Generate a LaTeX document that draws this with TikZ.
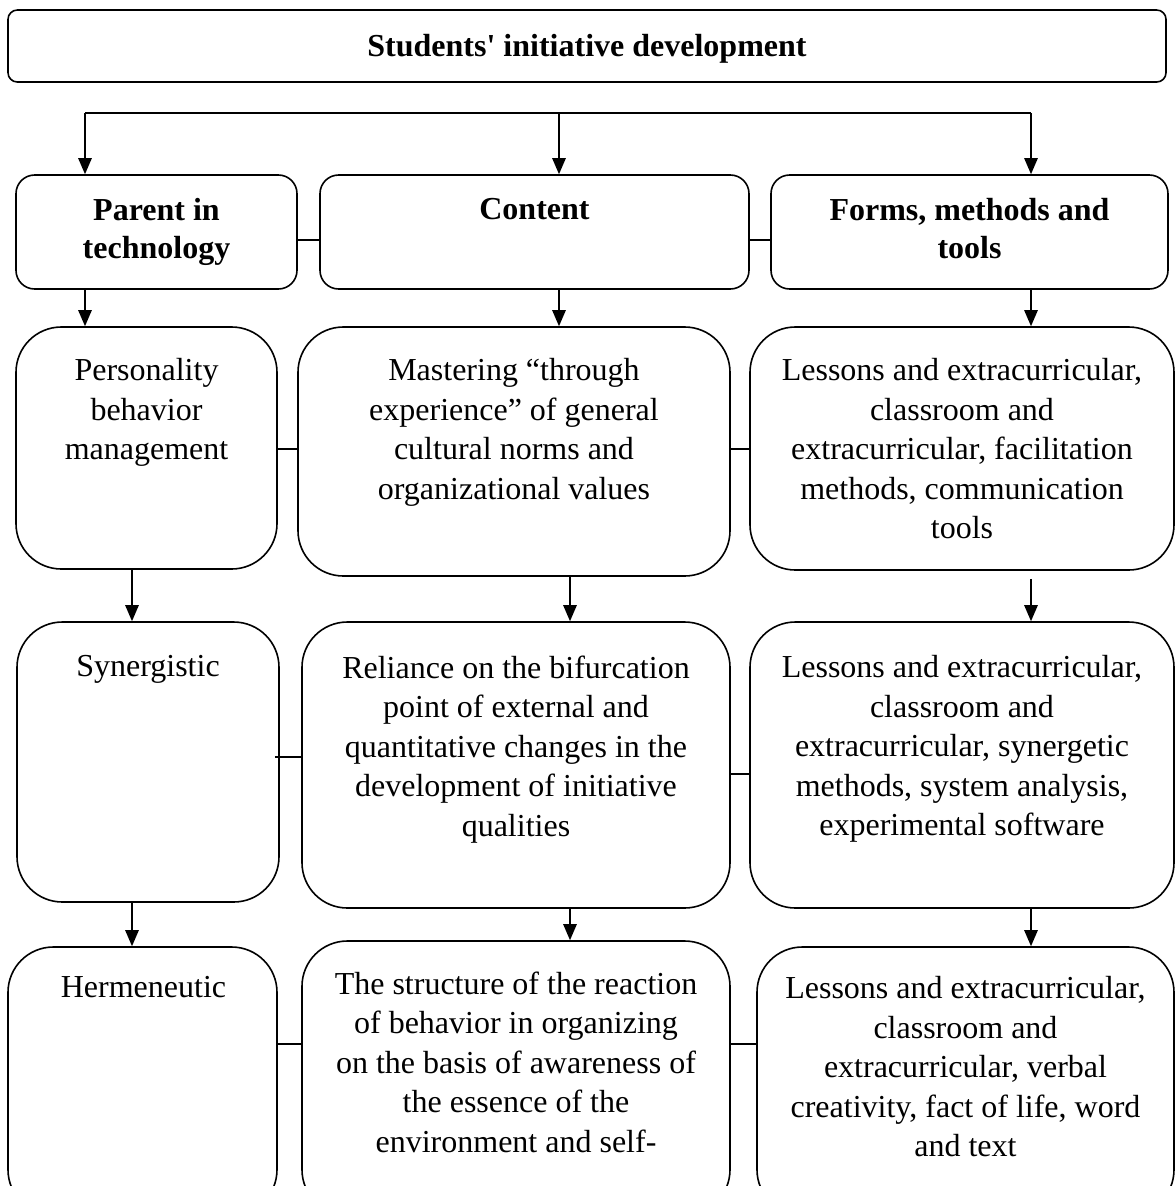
\documentclass[tikz,border=0pt]{standalone}
\usepackage{fontspec}
\setmainfont{Liberation Serif}
\usetikzlibrary{fit,arrows.meta}
\begin{document}
\begin{tikzpicture}[x=0.75pt,y=-0.75pt,
  box/.style={draw, line width=1.2pt, inner sep=0pt, rounded corners=34pt},
  hbox/.style={draw, line width=1.2pt, inner sep=0pt, rounded corners=14pt},
  tbox/.style={draw, line width=1.2pt, inner sep=0pt, rounded corners=7pt},
  txt/.style={anchor=north, inner sep=0pt, align=center, font=\fontsize{24}{29.6}\selectfont},
  htxt/.style={anchor=north, inner sep=0pt, align=center, font=\fontsize{24}{28.5}\selectfont\bfseries},
  arr/.style={line width=1.2pt, -{Triangle[length=12pt,width=10pt]}},
  link/.style={line width=1.2pt}
]
\useasboundingbox (0,0) rectangle (1176,1186);
\clip (0,0) rectangle (1176,1186);

% title
\node[tbox, fit={(8,10) (1166,82)}] (T) {};
\node[inner sep=0pt, font=\fontsize{24}{28.5}\selectfont\bfseries] (tT) at ([yshift=-2pt]T.center) {Students\textquotesingle{} initiative development};

% row 1
\node[hbox, fit={(16,175) (297,289)}] (A1) {};
\node[hbox, fit={(320,175) (749,289)}] (B1) {};
\node[hbox, fit={(771,175) (1168,289)}] (C1) {};
\node[htxt] (tA1) at (156.5,198.5) {Parent in\\technology};
\node[htxt] (tB1) at (534.5,198.5) {Content};
\node[htxt] (tC1) at (969.5,198.5) {Forms, methods and\\tools};

% row 2
\node[box, fit={(16,327) (277,569)}] (A2) {};
\node[box, fit={(298,327) (730,576)}] (B2) {};
\node[box, fit={(750,327) (1174,570)}] (C2) {};
\node[txt] (tA2) at (146.5,358.5) {Personality\\behavior\\management};
\node[txt] (tB2) at (514,358.5) {Mastering “through\\experience” of general\\cultural norms and\\organizational values};
\node[txt] (tC2) at (962,358.5) {Lessons and extracurricular,\\classroom and\\extracurricular, facilitation\\methods, communication\\tools};

% row 3
\node[box, fit={(17,622) (279,902)}] (A3) {};
\node[box, fit={(302,622) (730,908)}] (B3) {};
\node[box, fit={(750,622) (1174,908)}] (C3) {};
\node[txt] (tA3) at (148,655.5) {Synergistic};
\node[txt] (tB3) at (516,655.5) {Reliance on the bifurcation\\point of external and\\quantitative changes in the\\development of initiative\\qualities};
\node[txt] (tC3) at (962,655.5) {Lessons and extracurricular,\\classroom and\\extracurricular, synergetic\\methods, system analysis,\\experimental software};

% row 4
\node[box, fit={(8,947) (277,1215)}] (A4) {};
\node[box, fit={(302,941) (730,1215)}] (B4) {};
\node[box, fit={(757,947) (1174,1215)}] (C4) {};
\node[txt] (tA4) at (143.5,976.5) {Hermeneutic};
\node[txt] (tB4) at (516,971.5) {The structure of the reaction\\of behavior in organizing\\on the basis of awareness of\\the essence of the\\environment and self-};
\node[txt] (tC4) at (965.5,976.5) {Lessons and extracurricular,\\classroom and\\extracurricular, verbal\\creativity, fact of life, word\\and text};

% bus and arrows
\coordinate (b1) at (85,113);
\coordinate (b2) at (559,113);
\coordinate (b3) at (1031,113);
\coordinate (k1) at (132,0);
\coordinate (k2) at (570,0);
\draw[link] (b1) -- (b3);
\draw[arr] (b1) -- (b1 |- A1.north);
\draw[arr] (b2) -- (b2 |- B1.north);
\draw[arr] (b3) -- (b3 |- C1.north);

\draw[arr] (b1 |- A1.south) -- (b1 |- A2.north);
\draw[arr] (b2 |- B1.south) -- (b2 |- B2.north);
\draw[arr] (b3 |- C1.south) -- (b3 |- C2.north);

\draw[arr] (k1 |- A2.south) -- (k1 |- A3.north);
\draw[arr] (k2 |- B2.south) -- (k2 |- B3.north);
\draw[arr, shorten <=6pt] (b3 |- C2.south) -- (b3 |- C3.north);

\draw[arr] (k1 |- A3.south) -- (k1 |- A4.north);
\draw[arr] (k2 |- B3.south) -- (k2 |- B4.north);
\draw[arr] (b3 |- C3.south) -- (b3 |- C4.north);

% side links
\coordinate (r1) at (0,240);
\coordinate (r2) at (0,449);
\coordinate (r3a) at (0,757);
\coordinate (r3b) at (0,774);
\coordinate (r4) at (0,1044);
\draw[link] (A1.east |- r1) -- (B1.west |- r1);
\draw[link] (B1.east |- r1) -- (C1.west |- r1);
\draw[link] (A2.east |- r2) -- (B2.west |- r2);
\draw[link] (B2.east |- r2) -- (C2.west |- r2);
\draw[link] (A3.east |- r3a) ++(-5,0) -- (B3.west |- r3a);
\draw[link] (B3.east |- r3b) -- (C3.west |- r3b);
\draw[link] (A4.east |- r4) -- (B4.west |- r4);
\draw[link] (B4.east |- r4) -- (C4.west |- r4);
\end{tikzpicture}
\end{document}
